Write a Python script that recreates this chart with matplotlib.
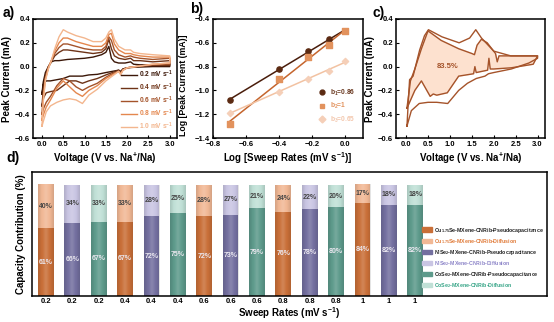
import matplotlib
matplotlib.use("Agg")
import matplotlib.pyplot as plt
import numpy as np
from matplotlib.lines import Line2D
from matplotlib.patches import Patch

FAMILY = "Liberation Sans"
plt.rcParams["font.family"] = [FAMILY, "DejaVu Sans"]
plt.rcParams["font.weight"] = "bold"
plt.rcParams["axes.labelweight"] = "bold"
plt.rcParams["mathtext.fontset"] = "custom"
plt.rcParams["mathtext.rm"] = f"{FAMILY}:bold"
plt.rcParams["mathtext.bf"] = f"{FAMILY}:bold"
plt.rcParams["mathtext.it"] = f"{FAMILY}:bold"
plt.rcParams["mathtext.default"] = "bf"

# ── panel a: CV curves at several sweep rates ──────────────────────────
RATE_LABELS = ["0.2", "0.4", "0.6", "0.8", "1.0"]
CV_COLORS = ["#3b1708", "#6e3317", "#a4532a", "#e4874e", "#f3b68e"]

V_UP = [0.0, 0.03, 0.08, 0.15, 0.22, 0.3, 0.4, 0.5, 0.6, 0.8, 1.0, 1.2, 1.4,
        1.5, 1.57, 1.63, 1.7, 1.8, 1.95, 2.08, 2.15, 2.3, 2.6, 3.0]
V_DOWN = [3.0, 2.6, 2.2, 2.0, 1.9, 1.85, 1.8, 1.65, 1.5, 1.3, 1.1, 0.95, 0.8,
          0.65, 0.5, 0.35, 0.2, 0.1, 0.04, 0.0]

I_UP = {
    "0.2": [-0.23, -0.13, -0.05, 0.0, 0.04, 0.05, 0.05, 0.055, 0.06, 0.065, 0.07, 0.08,
            0.10, 0.12, 0.17, 0.07, 0.04, 0.03, 0.03, 0.04, 0.02, 0.015, 0.015, 0.02],
    "0.4": [-0.33, -0.20, -0.08, 0.0, 0.04, 0.09, 0.12, 0.14, 0.14, 0.13, 0.12, 0.11,
            0.12, 0.15, 0.23, 0.15, 0.09, 0.07, 0.06, 0.07, 0.05, 0.05, 0.04, 0.05],
    "0.6": [-0.40, -0.24, -0.10, -0.01, 0.05, 0.11, 0.16, 0.19, 0.19, 0.17, 0.15, 0.14,
            0.14, 0.17, 0.25, 0.22, 0.14, 0.10, 0.08, 0.09, 0.08, 0.07, 0.06, 0.07],
    "0.8": [-0.45, -0.27, -0.11, -0.01, 0.05, 0.13, 0.20, 0.24, 0.24, 0.21, 0.19, 0.17,
            0.17, 0.20, 0.27, 0.28, 0.19, 0.14, 0.11, 0.11, 0.10, 0.09, 0.08, 0.08],
    "1.0": [-0.50, -0.30, -0.12, -0.02, 0.05, 0.15, 0.25, 0.31, 0.29, 0.26, 0.24, 0.21,
            0.21, 0.24, 0.29, 0.31, 0.23, 0.17, 0.14, 0.14, 0.12, 0.11, 0.10, 0.09],
}
I_DOWN = {
    "0.2": [0.0, 0.0, -0.005, -0.01, -0.02, -0.04, -0.03, -0.04, -0.05, -0.065, -0.07,
            -0.08, -0.08, -0.08, -0.10, -0.11, -0.12, -0.12, -0.14, -0.23],
    "0.4": [0.01, 0.01, 0.0, -0.01, -0.02, -0.05, -0.03, -0.05, -0.07, -0.10, -0.12,
            -0.14, -0.12, -0.12, -0.16, -0.20, -0.21, -0.22, -0.26, -0.33],
    "0.6": [0.02, 0.015, 0.0, -0.01, -0.03, -0.06, -0.04, -0.06, -0.09, -0.14, -0.17,
            -0.20, -0.17, -0.12, -0.10, -0.16, -0.25, -0.30, -0.35, -0.40],
    "0.8": [0.03, 0.02, 0.0, -0.01, -0.03, -0.06, -0.04, -0.07, -0.10, -0.16, -0.20,
            -0.25, -0.22, -0.17, -0.12, -0.18, -0.28, -0.34, -0.40, -0.45],
    "1.0": [0.03, 0.02, 0.0, -0.01, -0.03, -0.07, -0.04, -0.08, -0.12, -0.19, -0.24,
            -0.31, -0.28, -0.27, -0.28, -0.30, -0.33, -0.38, -0.45, -0.50],
}

# ── panel b: log(i) vs log(v) ──────────────────────────────────────────
LOG_RATE = [-0.699, -0.398, -0.222, -0.097, 0.0]
LOG_I1 = [-1.08, -0.82, -0.67, -0.57, -0.50]
LOG_I2 = [-1.28, -0.90, -0.72, -0.62, -0.50]
LOG_I3 = [-1.19, -1.01, -0.90, -0.84, -0.75]
B_LABELS = ["b$_1$=0.86", "b$_2$=1", "b$_3$=0.65"]

# ── panel c: total CV and capacitive part ──────────────────────────────
C_OUT_V_UP = [0.02, 0.05, 0.08, 0.16, 0.31, 0.42, 0.51, 0.82, 1.21, 1.45, 1.59,
              1.72, 2.0, 2.39, 3.0]
C_OUT_I_UP = [-0.50, -0.30, -0.11, -0.08, 0.14, 0.26, 0.31, 0.25, 0.20, 0.24, 0.31,
              0.24, 0.13, 0.09, 0.09]
C_OUT_V_DN = [3.0, 2.8, 2.4, 2.0, 1.88, 1.8, 1.6, 1.4, 1.2, 0.95, 0.7, 0.5, 0.3,
              0.12, 0.02]
C_OUT_I_DN = [0.07, 0.03, -0.02, -0.05, -0.06, -0.08, -0.10, -0.14, -0.20, -0.31,
              -0.30, -0.30, -0.31, -0.37, -0.50]
C_IN_V_UP = [0.02, 0.1, 0.2, 0.35, 0.5, 0.8, 1.2, 1.5, 1.56, 1.62, 1.72, 1.85,
             2.04, 2.08, 2.12, 2.4, 3.0]
C_IN_I_UP = [-0.35, -0.12, -0.02, 0.15, 0.30, 0.22, 0.15, 0.11, 0.10, 0.18, 0.23,
             0.20, 0.11, 0.04, 0.09, 0.09, 0.09]
C_IN_V_DN = [3.0, 2.9, 2.4, 2.0, 1.92, 1.89, 1.86, 1.6, 1.57, 1.54, 1.2, 0.94, 0.7,
             0.62, 0.55, 0.35, 0.2, 0.02]
C_IN_I_DN = [0.09, 0.02, -0.01, -0.02, -0.02, 0.07, -0.03, -0.05, 0.0, -0.06, -0.08,
             -0.22, -0.24, -0.23, -0.25, -0.12, -0.20, -0.35]
CAP_PERCENT = "83.5%"

# ── panel d: capacity contribution bars ────────────────────────────────
SWEEP_TICKS = ["0.2", "0.2", "0.2", "0.4", "0.4", "0.4", "0.6", "0.6", "0.6",
               "0.8", "0.8", "0.8", "1", "1", "1"]
PSEUDO = [61, 66, 67, 67, 72, 75, 72, 73, 79, 76, 78, 80, 84, 82, 82]
DIFFUSION = [40, 34, 33, 33, 28, 25, 28, 27, 21, 24, 22, 20, 17, 18, 18]
MATERIALS = ["Cu$_{1.75}$Se", "NiSe$_2$", "CoSe$_2$"]
PSEUDO_COLORS = ["#c96f38", "#736f9f", "#5d9a8b"]
DIFF_COLORS = ["#f1b895", "#c9c5e3", "#c0e0d6"]
DIFF_TEXT = ["#e07a38", "#8c84c8", "#35a486"]

fig = plt.figure(figsize=(5.54, 3.22), dpi=100)


def style_axes(ax):
    for s in ax.spines.values():
        s.set_linewidth(1.1)
    ax.tick_params(direction="in", length=2, width=0.8, labelsize=5.5, pad=2)


# a)
ax_a = fig.add_axes([0.0596, 0.5714, 0.2599, 0.3696])
for lab, col in zip(RATE_LABELS, CV_COLORS):
    ax_a.plot(V_UP + V_DOWN, I_UP[lab] + I_DOWN[lab], color=col, lw=1.0,
              label=f"{lab} mV s$^{{-1}}$")
ax_a.set_xlim(-0.21, 3.17)
ax_a.set_ylim(-0.6, 0.4)
ax_a.set_xticks([0.0, 0.5, 1.0, 1.5, 2.0, 2.5, 3.0])
ax_a.set_yticks([-0.6, -0.4, -0.2, 0.0, 0.2, 0.4])
ax_a.set_xlabel("Voltage (V vs. Na$^{+}$/Na)", fontsize=7, labelpad=2)
ax_a.set_ylabel("Peak Current (mA)", fontsize=7, labelpad=2)
style_axes(ax_a)
leg = ax_a.legend(loc="lower right", fontsize=4.8, frameon=False, handlelength=2.4,
                  handletextpad=0.2, labelspacing=0.25, borderaxespad=0.2,
                  bbox_to_anchor=(1.0, 0.02))
for t, col in zip(leg.get_texts(), CV_COLORS):
    t.set_color(col)
fig.text(0.005, 0.96, "a)", fontsize=10, fontweight="bold", va="center")

# b)
ax_b = fig.add_axes([0.3845, 0.5714, 0.2708, 0.3696])
b_series = [LOG_I1, LOG_I2, LOG_I3]
b_markers = ["o", "s", "D"]
b_colors = ["#5b2a12", "#e2925d", "#f5cfb8"]
b_lines = ["#4a1d0b", "#c5652d", "#f2c2a2"]
handles = []
x = np.array(LOG_RATE)
for ys, mk, col, lc, lab in zip(b_series, b_markers, b_colors, b_lines, B_LABELS):
    k, c0 = np.polyfit(x, ys, 1)
    ax_b.plot([x[0], x[-1]], [k * x[0] + c0, k * x[-1] + c0], color=lc, lw=1.1, zorder=2)
    ax_b.scatter(x, ys, marker=mk, color=col, s=14 if mk != "D" else 10, zorder=3)
    handles.append(Line2D([], [], ls="none", marker=mk, color=col, markersize=3.5, label=lab))
ax_b.set_xlim(-0.8, 0.11)
ax_b.set_ylim(-1.4, -0.4)
ax_b.set_xticks([-0.8, -0.6, -0.4, -0.2, 0.0])
ax_b.set_yticks([-1.4, -1.2, -1.0, -0.8, -0.6, -0.4])
ax_b.set_xlabel("Log [Sweep Rates (mV s$^{-1}$)]", fontsize=7, labelpad=2)
ax_b.set_ylabel("Log [Peak Current (mA)]", fontsize=6.3, labelpad=2)
ax_b.yaxis.set_label_coords(-0.17, 0.44)
style_axes(ax_b)
leg_b = ax_b.legend(handles=handles, loc="lower right", fontsize=4.8, frameon=False,
                    handletextpad=0.2, labelspacing=0.5, borderaxespad=0.0,
                    bbox_to_anchor=(0.97, 0.09))
for t, col in zip(leg_b.get_texts(), ["#6b3a22", "#e2925d", "#f3c7ad"]):
    t.set_color(col)
fig.text(0.343, 0.972, "b)", fontsize=10, fontweight="bold", va="center")

# c)
ax_c = fig.add_axes([0.7148, 0.5714, 0.2690, 0.3696])
ax_c.fill(C_IN_V_UP + C_IN_V_DN, C_IN_I_UP + C_IN_I_DN, color="#fde1cf", zorder=1)
ax_c.plot(C_IN_V_UP + C_IN_V_DN, C_IN_I_UP + C_IN_I_DN, color="#a5532a", lw=1.0, zorder=2)
ax_c.plot(C_OUT_V_UP + C_OUT_V_DN, C_OUT_I_UP + C_OUT_I_DN, color="#a5532a", lw=1.0, zorder=2)
ax_c.text(0.95, 0.0, CAP_PERCENT, fontsize=5.5, color="#a5532a", ha="center", va="center")
ax_c.set_xlim(-0.23, 3.17)
ax_c.set_ylim(-0.6, 0.4)
ax_c.set_xticks([0.0, 0.5, 1.0, 1.5, 2.0, 2.5, 3.0])
ax_c.set_yticks([-0.6, -0.4, -0.2, 0.0, 0.2, 0.4])
ax_c.set_xlabel("Voltage (V vs. Na$^{+}$/Na)", fontsize=7, labelpad=2)
ax_c.set_ylabel("Peak Current (mA)", fontsize=7, labelpad=2)
style_axes(ax_c)
fig.text(0.672, 0.96, "c)", fontsize=10, fontweight="bold", va="center")

# d)
ax_d = fig.add_axes([0.0578, 0.0807, 0.9296, 0.3851])
pos = np.arange(len(PSEUDO))
# cylinder-like shading across each bar
ramp = np.linspace(-1, 1, 40)
shade = np.zeros((1, 40, 4))
shade[0, :, :3] = (np.abs(ramp) < 0.5)[:, None] * 1.0
shade[0, :, 3] = np.where(np.abs(ramp) < 0.5, 0.16 * (1 - np.abs(ramp) * 2),
                          0.12 * (np.abs(ramp) - 0.5) * 2)
for i in pos:
    m = i % 3
    b1 = ax_d.bar(i, PSEUDO[i], width=0.6, color=PSEUDO_COLORS[m], edgecolor="none")
    b2 = ax_d.bar(i, DIFFUSION[i], width=0.6, bottom=PSEUDO[i], color=DIFF_COLORS[m],
                  edgecolor="none")
    for patch in (b1[0], b2[0]):
        x0, y0 = patch.get_x(), patch.get_y()
        im = ax_d.imshow(shade, extent=(x0, x0 + patch.get_width(), y0, y0 + patch.get_height()),
                         aspect="auto", interpolation="bilinear", zorder=2)
        im.set_clip_path(patch)
    ax_d.text(i, PSEUDO[i] / 2, f"{PSEUDO[i]}%", ha="center", va="center",
              fontsize=5, color="#ebe8f0", zorder=3)
    ax_d.text(i, PSEUDO[i] + DIFFUSION[i] / 2, f"{DIFFUSION[i]}%", ha="center",
              va="center", fontsize=5, color="#444444", zorder=3)
ax_d.set_xlim(-0.53, 19.0)
ax_d.set_ylim(0, 111.7)
ax_d.set_xticks(pos)
ax_d.set_xticklabels(SWEEP_TICKS)
ax_d.set_yticks([])
ax_d.set_xlabel("Sweep Rates (mV s$^{-1}$)", fontsize=7, labelpad=0)
ax_d.set_ylabel("Capacity Contribution (%)", fontsize=7, labelpad=4)
style_axes(ax_d)
ax_d.tick_params(axis="x", length=0, pad=1.5)

leg_handles = []
leg_colors = []
for mat, pc, dc, tc in zip(MATERIALS, PSEUDO_COLORS, DIFF_COLORS, DIFF_TEXT):
    leg_handles.append(Patch(color=pc, label=f"{mat}-MXene-CNRib-Pseudocapacitance"))
    leg_colors.append("#222222")
    leg_handles.append(Patch(color=dc, label=f"{mat}-MXene-CNRib-Diffusion"))
    leg_colors.append(tc)
leg_d = ax_d.legend(handles=leg_handles, loc="lower left", fontsize=3.8, frameon=False,
                    handlelength=1.9, handleheight=1.0, handletextpad=0.3,
                    labelspacing=0.4, borderaxespad=0.0, borderpad=0.0,
                    bbox_to_anchor=(0.758, 0.05))
for t, col in zip(leg_d.get_texts(), leg_colors):
    t.set_color(col)
fig.text(0.012, 0.51, "d)", fontsize=10, fontweight="bold", va="center")

fig.savefig("out.png", dpi=100)
